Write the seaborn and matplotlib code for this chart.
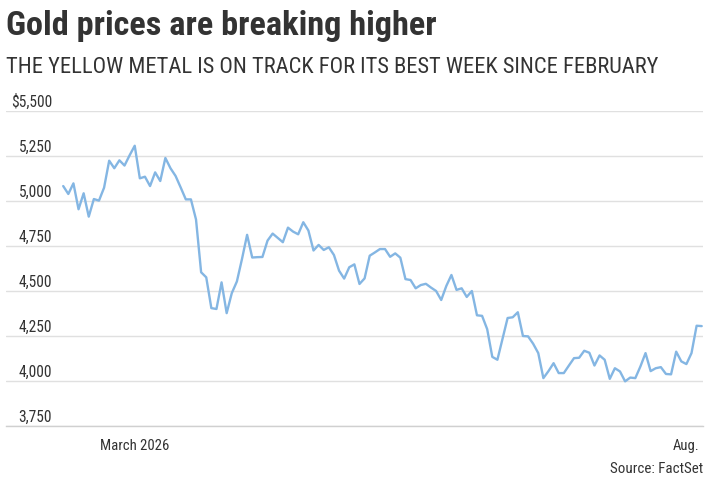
import numpy as np
import pandas as pd
import matplotlib
matplotlib.use("Agg")
import matplotlib.pyplot as plt
import seaborn as sns

# DATA - gold price, one point per trading day

prices = [
    5083, 5039, 5098, 4954, 5043, 4913, 5011, 5002, 5074, 5224,
    5182, 5226, 5197, 5254, 5307, 5126, 5135, 5083, 5159, 5111,
    5239, 5182, 5139, 5075, 5009, 5009, 4897, 4604, 4576, 4405,
    4400, 4548, 4377, 4488, 4553, 4678, 4812, 4686, 4688, 4689,
    4780, 4819, 4795, 4771, 4852, 4830, 4815, 4882, 4836, 4725,
    4756, 4728, 4743, 4700, 4613, 4569, 4632, 4648, 4539, 4570,
    4696, 4714, 4733, 4733, 4690, 4709, 4685, 4566, 4561, 4515,
    4533, 4540, 4519, 4500, 4450, 4528, 4589, 4506, 4515, 4467,
    4500, 4365, 4362, 4288, 4134, 4118, 4234, 4350, 4354, 4382,
    4250, 4248, 4207, 4155, 4016, 4055, 4099, 4044, 4044, 4086,
    4127, 4129, 4168, 4157, 4086, 4142, 4118, 4012, 4071, 4053,
    3998, 4019, 4016, 4081, 4155, 4055, 4071, 4077, 4039, 4037,
    4163, 4109, 4094, 4155, 4307, 4305,
]

# first trading day of each month, as an index into prices
month_idx = [14, 36, 57, 77, 99, 122]
month_labels = ["March 2026", "", "", "", "", "Aug."]

y_ticks = [3750, 4000, 4250, 4500, 4750, 5000, 5250, 5500]
y_labels = ["3,750", "4,000", "4,250", "4,500", "4,750", "5,000", "5,250", "$5,500"]

df = pd.DataFrame({"day": np.arange(len(prices)), "price": prices})

# STYLE

sns.set_theme(style="white")
plt.rcParams["font.family"] = ["Roboto Condensed", "DejaVu Sans"]
dark = "#333333"

fig = plt.figure(figsize=(7.18, 4.85), dpi=100)
ax = fig.add_axes([6 / 718, 1 - 427 / 485, 697 / 718, 315 / 485])

sns.lineplot(data=df, x="day", y="price", ax=ax, color="#84b6e3", linewidth=1.7)

ax.set_xlim(-11.2, 125.25)
ax.set_ylim(3750, 5500)

# gridlines, labels sit just above each line
ax.set_yticks(y_ticks)
ax.set_yticklabels([])
ax.tick_params(axis="y", length=0)
ax.grid(axis="y", color="#e0e0e0", linewidth=1)
for v, lab in zip(y_ticks, y_labels):
    ax.annotate(lab, xy=(0.066, v), xycoords=ax.get_yaxis_transform(),
                xytext=(0, 3.5), textcoords="offset points",
                ha="right", va="baseline", fontsize=11.2, color=dark)

ax.set_xticks(month_idx)
ax.set_xticklabels(month_labels, fontsize=10.6, color=dark)
ax.tick_params(axis="x", length=4, width=1, color="#555555", direction="out", pad=5)

for side in ["top", "right", "left"]:
    ax.spines[side].set_visible(False)
ax.spines["bottom"].set_color("#d0d0d0")
ax.spines["bottom"].set_linewidth(1)

ax.set_xlabel("")
ax.set_ylabel("")

# TITLES

fig.text(6 / 718, 1 - 35 / 485, "Gold prices are breaking higher",
         fontsize=24.7, fontweight="bold", color=dark, va="baseline")
fig.text(6 / 718, 1 - 73 / 485,
         "THE YELLOW METAL IS ON TRACK FOR ITS BEST WEEK SINCE FEBRUARY",
         fontsize=16.2, color=dark, va="baseline")
fig.text(703 / 718, 1 - 473 / 485, "Source: FactSet",
         fontsize=10.8, color=dark, ha="right", va="baseline")

fig.savefig("out.png", dpi=100)
